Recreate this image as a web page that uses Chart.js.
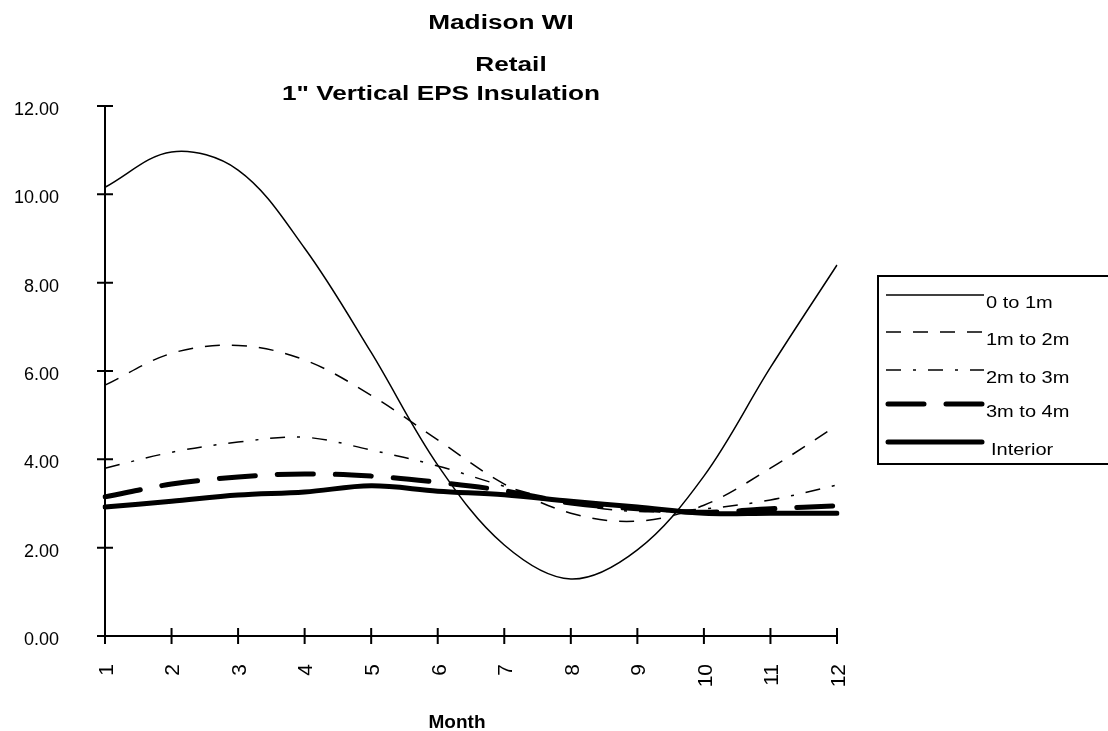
<!DOCTYPE html>
<html>
<head>
<meta charset="utf-8">
<script src="https://cdn.jsdelivr.net/npm/chart.js@4/dist/chart.umd.min.js"></script>
<style>
  html, body { margin: 0; padding: 0; background: #fff; }
  #c { display: block; }
</style>
</head>
<body>
<canvas id="c" width="1108" height="731" style="width:1108px;height:731px"></canvas>
<script>
// ---- data ----
const months = ['1','2','3','4','5','6','7','8','9','10','11','12'];
const seriesNames = ['0 to 1m', '1m to 2m', '2m to 3m', '3m to 4m', 'Interior'];
const s0to1m   = [10.16, 10.96, 10.55, 8.78, 6.42, 3.87, 2.06, 1.29, 1.95, 3.62, 6.08, 8.40];
const s1to2m   = [5.68, 6.40, 6.58, 6.25, 5.45, 4.44, 3.44, 2.78, 2.60, 2.96, 3.80, 4.77];
const s2to3m   = [3.80, 4.16, 4.39, 4.50, 4.21, 3.85, 3.39, 3.00, 2.82, 2.88, 3.08, 3.42];
const s3to4m   = [3.15, 3.44, 3.60, 3.67, 3.62, 3.48, 3.29, 3.01, 2.88, 2.80, 2.88, 2.95];
const sInterior = [2.92, 3.05, 3.19, 3.26, 3.40, 3.28, 3.20, 3.05, 2.92, 2.78, 2.78, 2.78];
const titleLines = ['Madison WI', 'Retail', '1" Vertical EPS Insulation'];
const xAxisTitle = 'Month';
const yMin = 0, yMax = 12, yStep = 2;

const FONT = '"Liberation Sans", Arial, sans-serif';

const styles = [
  { borderWidth: 1.5, borderDash: [], cap: 'butt' },
  { borderWidth: 1.5, borderDash: [15, 12], cap: 'butt' },
  { borderWidth: 1.5, borderDash: [15, 12, 3, 12], cap: 'butt' },
  { borderWidth: 5, borderDash: [36, 22], cap: 'round' },
  { borderWidth: 5, borderDash: [], cap: 'round' }
];
const allSeries = [s0to1m, s1to2m, s2to3m, s3to4m, sInterior];

function stretchText(ctx, text, x, y, sx, align) {
  ctx.save();
  ctx.translate(x, y);
  ctx.scale(sx, 1);
  ctx.textAlign = align;
  ctx.textBaseline = 'alphabetic';
  ctx.fillText(text, 0, 0);
  ctx.restore();
}

const decor = {
  id: 'decor',
  afterDraw(chart) {
    const { ctx, scales: { x, y } } = chart;
    ctx.save();
    ctx.strokeStyle = '#000';
    ctx.fillStyle = '#000';
    ctx.lineWidth = 2;
    ctx.setLineDash([]);
    ctx.lineCap = 'butt';
    const x0 = x.left, x1 = x.right, yb = y.bottom, yt = y.top;
    ctx.beginPath();
    ctx.moveTo(x0, yt); ctx.lineTo(x0, yb);
    ctx.moveTo(x0, yb); ctx.lineTo(x1, yb);
    y.ticks.forEach(t => {
      const py = y.getPixelForValue(t.value);
      ctx.moveTo(x0 - 8, py); ctx.lineTo(x0 + 8, py);
    });
    months.forEach((m, i) => {
      const px = x.getPixelForValue(i);
      ctx.moveTo(px, yb - 8); ctx.lineTo(px, yb + 8);
    });
    ctx.stroke();

    // chart title (three lines)
    ctx.font = 'bold 20px ' + FONT;
    stretchText(ctx, titleLines[0], 501, 28.5, 1.31, 'center');
    stretchText(ctx, titleLines[1], 511, 71, 1.31, 'center');
    stretchText(ctx, titleLines[2], 441, 100, 1.31, 'center');

    // x axis title
    ctx.font = 'bold 19px ' + FONT;
    stretchText(ctx, xAxisTitle, 457, 728, 1, 'center');

    // legend
    ctx.lineWidth = 2;
    ctx.strokeRect(878, 276, 260, 188);
    const rows = [295, 332, 370, 404, 442];
    ctx.font = '16px ' + FONT;
    seriesNames.forEach((name, i) => {
      const st = styles[i];
      ctx.save();
      ctx.lineWidth = st.borderWidth;
      ctx.setLineDash(st.borderDash);
      ctx.lineCap = st.cap;
      ctx.beginPath();
      const sx0 = st.borderWidth > 3 ? 888 : 886;
      const sx1 = st.borderWidth > 3 ? 982 : 984;
      ctx.moveTo(sx0, rows[i]); ctx.lineTo(sx1, rows[i]);
      ctx.stroke();
      ctx.restore();
      stretchText(ctx, name, i === 4 ? 991 : 986, rows[i] + 12.5, 1.25, 'left');
    });
    ctx.restore();
  }
};

new Chart(document.getElementById('c'), {
  type: 'line',
  data: {
    labels: months,
    datasets: allSeries.map((d, i) => ({
      label: seriesNames[i],
      data: d,
      borderColor: '#000',
      backgroundColor: '#000',
      borderWidth: styles[i].borderWidth,
      borderDash: styles[i].borderDash,
      borderCapStyle: styles[i].cap,
      borderJoinStyle: 'round',
      pointRadius: 0,
      tension: 0.35,
      fill: false
    }))
  },
  options: {
    responsive: false,
    animation: false,
    devicePixelRatio: 1,
    layout: { padding: { top: 106, right: 271, left: 0, bottom: 0 } },
    plugins: { legend: { display: false }, tooltip: { enabled: false }, title: { display: false } },
    scales: {
      x: {
        type: 'category',
        offset: false,
        grid: { display: false, drawTicks: false },
        border: { display: false },
        ticks: {
          color: '#000',
          font: { size: 21, family: FONT },
          minRotation: 90, maxRotation: 90,
          padding: 28, labelOffset: 2, autoSkip: false
        },
        afterFit(s) { s.height = 95; }
      },
      y: {
        min: yMin, max: yMax,
        grid: { display: false, drawTicks: false },
        border: { display: false },
        ticks: {
          stepSize: yStep,
          color: '#000',
          font: { size: 18, family: FONT },
          padding: 46, labelOffset: 4,
          callback: v => Number(v).toFixed(2)
        },
        afterFit(s) { s.width = 105; }
      }
    }
  },
  plugins: [decor]
});
</script>
</body>
</html>
